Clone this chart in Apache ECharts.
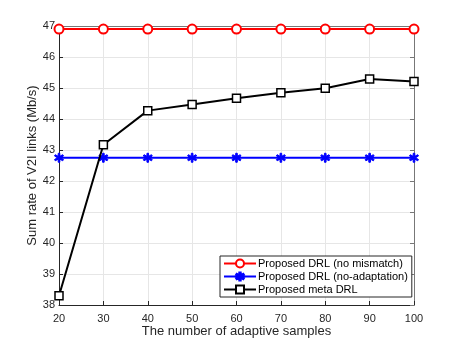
<!DOCTYPE html>
<html lang="en">
<head>
    <meta charset="UTF-8">
    <title>Sum rate of V2I links</title>
    <script src="https://cdn.jsdelivr.net/npm/echarts@6/dist/echarts.min.js"></script>
    <style>
        html, body { margin: 0; padding: 0; background: #fff; }
        #chart { width: 457px; height: 343px; }
    </style>
</head>
<body>
<div id="chart"></div>
<script type="text/javascript">
	// data
	var samples = [20, 30, 40, 50, 60, 70, 80, 90, 100];
	var noMismatch = [46.9, 46.9, 46.9, 46.9, 46.9, 46.9, 46.9, 46.9, 46.9];
	var noAdaptation = [42.75, 42.75, 42.75, 42.75, 42.75, 42.75, 42.75, 42.75, 42.75];
	var metaDrl = [38.3, 43.17, 44.27, 44.47, 44.67, 44.85, 44.99, 45.29, 45.21];
	var seriesNames = ['Proposed DRL (no mismatch)', 'Proposed DRL (no-adaptation)', 'Proposed meta DRL'];

	var font = 'Liberation Sans, Arial, sans-serif';
	var axisColor = '#262626';
	// fat asterisk like the matlab '*' marker drawn thick
	var star = 'path://M-1.6,-10L1.6,-10L1.8,-3.2L7.6,-6.8L9.2,-4L3.4,0L9.2,4L7.6,6.8L1.8,3.2L1.6,10L-1.6,10L-1.8,3.2L-7.6,6.8L-9.2,4L-3.4,0L-9.2,-4L-7.6,-6.8L-1.8,-3.2Z';

	function pairs(ys) {
		var out = [];
		for (var i = 0; i < samples.length; i++) {
			out.push([samples[i], ys[i]]);
		}
		return out;
	}

	var chart = echarts.init(document.getElementById('chart'));
	var option = {
		animation: false,
		backgroundColor: '#fff',
		grid: {left: 59, right: 43, top: 26, bottom: 38, outerBoundsMode: 'none'},
		legend: {
			left: 220,
			top: 256,
			orient: 'vertical',
			backgroundColor: '#fff',
			borderColor: axisColor,
			borderWidth: 1,
			borderRadius: 0,
			padding: [2, 4, 2, 3],
			itemGap: 2,
			itemWidth: 32,
			itemHeight: 10,
			textStyle: {fontFamily: font, fontSize: 11, color: '#000', padding: [0, 0, 0, -3]},
			data: seriesNames
		},
		xAxis: [{
			type: 'value',
			min: 20, max: 100, interval: 10,
			name: 'The number of adaptive samples',
			nameLocation: 'middle',
			nameGap: 20,
			nameMoveOverlap: false,
			nameTextStyle: {fontFamily: font, fontSize: 13, color: axisColor, verticalAlign: 'top'},
			axisLine: {lineStyle: {color: axisColor, width: 1}},
			axisTick: {inside: true, length: 4, lineStyle: {color: axisColor}},
			axisLabel: {fontFamily: font, fontSize: 11, color: axisColor, margin: 8},
			splitLine: {show: true, lineStyle: {color: '#e6e6e6', width: 1}}
		}, {
			type: 'value',
			position: 'top',
			min: 20, max: 100, interval: 10,
			axisLine: {show: true, lineStyle: {color: '#777', width: 1}},
			axisTick: {show: false},
			axisLabel: {show: false},
			splitLine: {show: false}
		}],
		yAxis: [{
			type: 'value',
			min: 38, max: 47, interval: 1,
			name: 'Sum rate of V2I links (Mb/s)',
			nameLocation: 'middle',
			nameGap: 20,
			nameMoveOverlap: false,
			nameTextStyle: {fontFamily: font, fontSize: 13, color: axisColor},
			axisLine: {show: true, lineStyle: {color: axisColor, width: 1}},
			axisTick: {show: true, inside: true, length: 4, lineStyle: {color: axisColor}},
			axisLabel: {fontFamily: font, fontSize: 11, color: axisColor, margin: 4},
			splitLine: {show: true, lineStyle: {color: '#e6e6e6', width: 1}}
		}, {
			type: 'value',
			position: 'right',
			min: 38, max: 47, interval: 1,
			axisLine: {show: true, lineStyle: {color: '#777', width: 1}},
			axisTick: {show: true, inside: true, length: 4, lineStyle: {color: '#777'}},
			axisLabel: {show: false},
			splitLine: {show: false}
		}],
		series: [
			{
				name: seriesNames[0],
				type: 'line',
				data: pairs(noMismatch),
				symbol: 'circle',
				symbolSize: 9,
				lineStyle: {color: '#ff0000', width: 2},
				itemStyle: {color: '#fff', borderColor: '#ff0000', borderWidth: 2},
				z: 3
			},
			{
				name: seriesNames[1],
				type: 'line',
				data: pairs(noAdaptation),
				symbol: star,
				symbolSize: 9,
				lineStyle: {color: '#0000ff', width: 2},
				itemStyle: {color: '#0000ff', borderColor: '#0000ff', borderWidth: 1},
				z: 3
			},
			{
				name: seriesNames[2],
				type: 'line',
				data: pairs(metaDrl),
				symbol: 'rect',
				symbolSize: 8,
				lineStyle: {color: '#000', width: 2},
				itemStyle: {color: '#fff', borderColor: '#000', borderWidth: 1.5},
				z: 4
			}
		]
	};
	chart.setOption(option);
</script>
</body>
</html>
